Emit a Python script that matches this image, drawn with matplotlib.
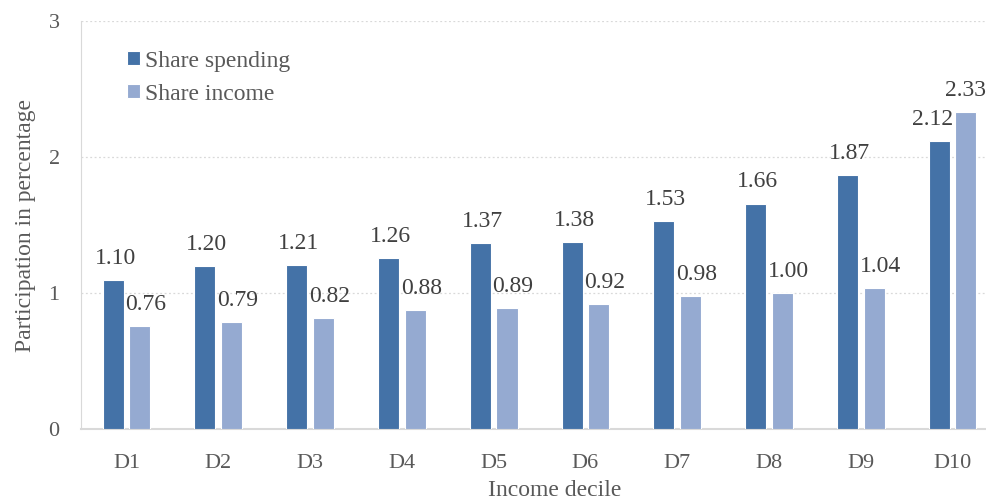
import numpy as np
import matplotlib.pyplot as plt

plt.rcParams['font.family'] = ['Liberation Serif', 'DejaVu Serif']

deciles = ['D1', 'D2', 'D3', 'D4', 'D5', 'D6', 'D7', 'D8', 'D9', 'D10']
share_spending = [1.10, 1.20, 1.21, 1.26, 1.37, 1.38, 1.53, 1.66, 1.87, 2.12]
share_income = [0.76, 0.79, 0.82, 0.88, 0.89, 0.92, 0.98, 1.00, 1.04, 2.33]

dark = '#4472A7'
light = '#95AAD1'
grey = '#D9D9D9'

fig = plt.figure(figsize=(9.86, 5.0), dpi=100)
ax = fig.add_axes([0.0817, 0.1414, 0.931, 0.816])

x = np.arange(len(deciles))
w = 0.23
off = 0.145
b1 = ax.bar(x - off, share_spending, w, color=dark, edgecolor='white',
            linewidth=0.8, label='Share spending', zorder=3)
b2 = ax.bar(x + off, share_income, w, color=light, edgecolor='white',
            linewidth=0.8, label='Share income', zorder=3)

# value labels, nudged a little like the usual spreadsheet placement
for i, v in enumerate(share_spending):
    dx = -7 if i == len(deciles) - 1 else 2
    ax.annotate(f'{v:.2f}', (x[i] - off, v), xytext=(dx * 0.72, 8),
                textcoords='offset points', ha='center', va='bottom',
                fontsize=17, color='#404040')
for i, v in enumerate(share_income):
    dx = 0 if i == len(deciles) - 1 else 6
    ax.annotate(f'{v:.2f}', (x[i] + off, v), xytext=(dx * 0.72, 8),
                textcoords='offset points', ha='center', va='bottom',
                fontsize=17, color='#404040', annotation_clip=False)

ax.set_xlim(-0.5, len(deciles) - 0.5)
ax.set_ylim(0, 3)
ax.set_yticks([0, 1, 2, 3])
ax.set_xticks(x)
ax.set_xticklabels(deciles)
ax.tick_params(axis='both', length=0, labelsize=16, labelcolor='#595959')
ax.tick_params(axis='x', pad=18)
ax.tick_params(axis='y', pad=15)

ax.yaxis.grid(True, linestyle=(0, (1.5, 2)), color=grey, linewidth=0.9, zorder=0)
ax.set_axisbelow(True)
for s in ['top', 'right']:
    ax.spines[s].set_visible(False)
ax.spines['left'].set_color(grey)
ax.spines['bottom'].set_color(grey)
ax.spines['bottom'].set_linewidth(1.5)

ax.set_ylabel('Participation in percentage', fontsize=17, color='#595959')
ax.yaxis.set_label_coords(-0.048, 0.5)
ax.set_xlabel('Income decile', fontsize=17, color='#595959')
ax.xaxis.set_label_coords(0.517, -0.125)

ax.legend(loc='upper left', bbox_to_anchor=(0.027, 0.98), frameon=False,
          fontsize=17, handlelength=0.55, handleheight=0.55,
          handletextpad=0.25, labelspacing=0.5, labelcolor='#595959')

fig.savefig('out.png', dpi=100)
